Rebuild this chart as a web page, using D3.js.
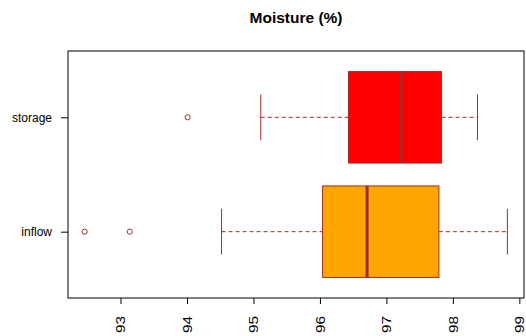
<!DOCTYPE html>
<html>
<head>
<meta charset="utf-8">
<script src="https://cdn.jsdelivr.net/npm/d3@7"></script>
<style>
  body { margin: 0; background: #fff; }
  text { font-family: "Liberation Sans", Arial, sans-serif; }
</style>
</head>
<body>
<svg id="chart" width="526" height="336"></svg>
<script>
// box stats
var groups = ["inflow", "storage"];
var fills = ["#FFA500", "#FF0000"];
var lowWhisker = [94.52, 95.11];
var q1 = [96.04, 96.43];
var median = [96.71, 97.22];
var q3 = [97.79, 97.83];
var highWhisker = [98.82, 98.37];
var outliers = [[92.46, 93.14], [94.01]];
var xTicks = [93, 94, 95, 96, 97, 98, 99];

var svg = d3.select("#chart");
var plotL = 68, plotR = 524, plotT = 51, plotB = 298;
var edge = "#A52A2A";

var x = d3.scaleLinear().domain([92.21, 99.07]).range([plotL, plotR]);
var y = d3.scaleLinear().domain([0.42, 2.58]).range([plotB, plotT]);
var boxH = y(0) - y(0.8);

svg.append("text")
  .attr("x", (plotL + plotR) / 2).attr("y", 22.5)
  .attr("text-anchor", "middle")
  .attr("font-size", 15.5).attr("font-weight", "bold")
  .text("Moisture (%)");

var g = svg.selectAll("g.box").data(groups).enter().append("g").attr("class", "box");

g.each(function (d, i) {
  var s = d3.select(this);
  var cy = y(i + 1);
  // whiskers
  s.append("line").attr("x1", x(lowWhisker[i])).attr("x2", x(q1[i]))
    .attr("y1", cy).attr("y2", cy)
    .attr("stroke", edge).attr("stroke-dasharray", "4,3");
  s.append("line").attr("x1", x(q3[i])).attr("x2", x(highWhisker[i]))
    .attr("y1", cy).attr("y2", cy)
    .attr("stroke", edge).attr("stroke-dasharray", "4,3");
  [lowWhisker[i], highWhisker[i]].forEach(function (v) {
    s.append("line").attr("x1", x(v)).attr("x2", x(v))
      .attr("y1", cy - boxH / 4).attr("y2", cy + boxH / 4)
      .attr("stroke", edge);
  });
  // box
  s.append("rect")
    .attr("x", x(q1[i])).attr("width", x(q3[i]) - x(q1[i]))
    .attr("y", cy - boxH / 2).attr("height", boxH)
    .attr("fill", fills[i]).attr("stroke", edge);
  s.append("line").attr("x1", x(median[i])).attr("x2", x(median[i]))
    .attr("y1", cy - boxH / 2).attr("y2", cy + boxH / 2)
    .attr("stroke", edge).attr("stroke-width", 3);
  s.selectAll("circle").data(outliers[i]).enter().append("circle")
    .attr("cx", function (v) { return x(v); }).attr("cy", cy)
    .attr("r", 2.6).attr("fill", "none").attr("stroke", edge);
});

// frame
svg.append("rect")
  .attr("x", plotL).attr("y", plotT)
  .attr("width", plotR - plotL).attr("height", plotB - plotT)
  .attr("fill", "none").attr("stroke", "#000");

// x axis, labels rotated like las=2
var xa = svg.append("g").attr("transform", "translate(0," + plotB + ")")
  .call(d3.axisBottom(x).tickValues(xTicks).tickSize(6).tickSizeOuter(0).tickFormat(d3.format("d")));
xa.select(".domain").remove();
xa.selectAll("text")
  .attr("font-size", 12).attr("font-family", null).attr("fill", "#000")
  .attr("transform", "rotate(-90) scale(1.28,1)")
  .attr("text-anchor", "end")
  .attr("x", -14).attr("y", 0).attr("dy", "0.35em");

var ya = svg.append("g").attr("transform", "translate(" + plotL + ",0)")
  .call(d3.axisLeft(y).tickValues([1, 2]).tickSize(7).tickSizeOuter(0)
    .tickFormat(function (d) { return groups[d - 1]; }));
ya.select(".domain").remove();
ya.selectAll("text").attr("font-size", 12).attr("font-family", null).attr("fill", "#000").attr("x", -16);
</script>
</body>
</html>
